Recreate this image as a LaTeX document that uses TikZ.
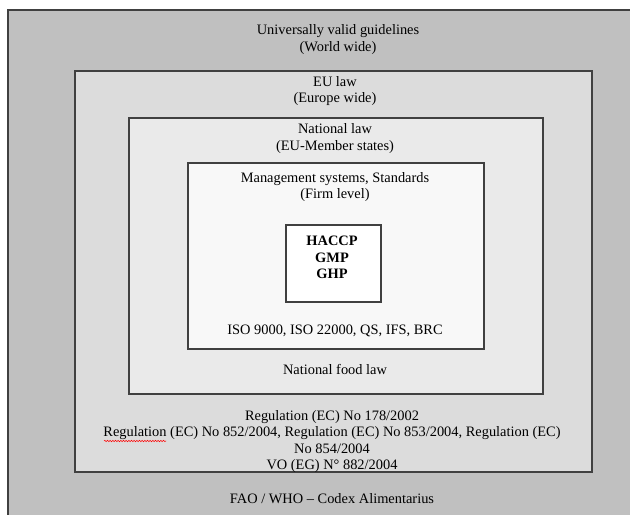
\documentclass[tikz,border=0pt]{standalone}
\usepackage{fontspec}
\setmainfont{Liberation Serif}
\usepackage{tikz}
\usetikzlibrary{positioning, decorations.pathmorphing}
\definecolor{worldgray}{HTML}{C0C0C0}
\definecolor{eugray}{HTML}{DCDCDC}
\definecolor{natgray}{HTML}{EAEAEA}
\definecolor{firmgray}{HTML}{F8F8F8}
\tikzstyle{layer} = [rectangle,
anchor=north west,
inner sep=0pt,
draw=black!75,
line width=1.3pt]
\tikzstyle{caption} = [align=center,
inner sep=0pt,
font=\fontsize{10.8}{12.2}\selectfont]
\tikzstyle{typo} = [red, line width=0.4pt, decorate,
decoration={snake, amplitude=0.5pt, segment length=2pt}]

\begin{document}
\begin{tikzpicture}[x=0.75pt, y=-0.75pt]
            \useasboundingbox (0,0) rectangle (630,514);
            % nested boxes, outermost first
            \node (world) [layer, fill=worldgray, minimum width=510pt, minimum height=420pt] at (7,9) {};
            \node (eu) [layer, fill=eugray, minimum width=387.75pt, minimum height=300.75pt] at (74,70) {};
            \node (nat) [layer, fill=natgray, minimum width=310.5pt, minimum height=207pt] at (128,117) {};
            \node (firm) [layer, fill=firmgray, minimum width=222pt, minimum height=139.5pt] at (187,162) {};
            \node (core) [layer, fill=white, minimum width=71.25pt, minimum height=57.75pt] at (285,224) {};

            \node (worldtxt) [caption] at (338,39.5) {Universally valid guidelines\\(World wide)};
            \node (eutxt) [caption] at (335,91) {EU law\\(Europe wide)};
            \node (nattxt) [caption] at (335,138.5) {National law\\(EU-Member states)};
            \node (firmtxt) [caption] at (335,187) {Management systems, Standards\\(Firm level)};
            \node (coretxt) [caption, font=\fontsize{10.8}{12.2}\selectfont\bfseries] at (332,257.5) {HACCP\\GMP\\GHP};
            \node (iso) [caption] at (335,331) {ISO 9000, ISO 22000, QS, IFS, BRC};
            \node (foodlaw) [caption] at (335,369) {National food law};
            \node (reg) [caption] at (332,441.5) {Regulation (EC) No 178/2002\\
                Regulation (EC) No 852/2004, Regulation (EC) No 853/2004, Regulation (EC)\\
                No 854/2004\\VO (EG) N° 882/2004};
            \node (codex) [caption] at (332,498.5) {FAO / WHO – Codex Alimentarius};

            \draw [typo] (104,441) -- (166,441);
        \end{tikzpicture}
\end{document}
